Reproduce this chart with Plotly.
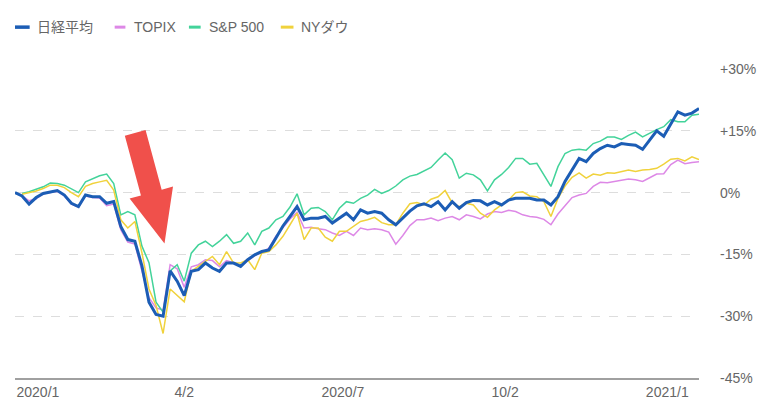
import pandas as pd
import plotly.graph_objects as go

# ---- data (percent change from start), sampled every 4 days ----
dates = pd.date_range("2019-12-30", periods=98, freq="4D")

nikkei = [0.0, -0.8, -2.8, -1.2, -0.2, 0.2, 0.5, -0.6, -2.6, -3.4, -0.6, -1.0, -1.0, -2.6, -2.2,
          -8.2, -11.4, -11.8, -17.8, -26.6, -29.6, -30.0, -19.0, -21.5, -25.0, -19.1, -18.7, -17.1, -18.3, -19.1,
          -17.1, -17.1, -17.9, -16.3, -15.1, -14.3, -13.9, -11.0, -8.1, -5.8, -3.4, -6.6, -6.2, -6.2, -5.8,
          -7.4, -6.2, -5.0, -6.6, -4.2, -5.0, -4.6, -5.0, -6.6, -7.8, -6.2, -4.5, -3.2, -2.7, -3.4,
          -2.2, -4.2, -2.2, -3.8, -2.4, -1.9, -2.0, -3.0, -2.2, -3.0, -1.8, -1.4, -1.4, -1.4, -1.8,
          -1.8, -3.0, -1.0, 2.7, 5.5, 8.3, 7.5, 9.5, 10.7, 11.5, 11.1, 11.9, 11.7, 11.5, 10.5,
          12.7, 15.0, 13.7, 16.8, 19.6, 18.8, 19.3, 20.4]

topix = [None, -0.8, -2.0, -1.5, -0.3, 0.0, 0.3, -0.8, -2.8, -3.5, -0.8, -1.2, -1.3, -3.2, -2.8,
         -9.0, -12.0, -12.5, -19.0, -25.5, -28.0, -28.5, -17.5, -18.5, -23.0, -18.0, -17.5, -16.3, -16.5, -18.0,
         -16.5, -17.0, -17.8, -16.5, -15.3, -14.5, -13.5, -10.6, -8.4, -6.4, -4.8, -8.6, -8.4, -8.8, -9.0,
         -9.8, -10.4, -9.4, -10.4, -8.6, -9.0, -8.8, -9.0, -9.6, -12.5, -10.4, -8.0, -6.6, -6.6, -6.2,
         -6.8, -6.2, -5.8, -6.6, -5.4, -5.8, -6.4, -5.2, -4.6, -4.8, -4.3, -4.6, -5.4, -5.8, -6.0,
         -6.5, -7.8, -5.2, -3.2, -1.2, -0.6, -0.2, 1.5, 2.5, 2.4, 2.7, 3.0, 3.3, 3.1, 2.7,
         3.6, 4.5, 4.6, 6.8, 7.9, 7.0, 7.3, 7.5]

sp500 = [None, -0.2, 0.2, 0.8, 1.4, 2.3, 2.2, 1.8, 0.8, 0.0, 2.6, 3.4, 4.1, 4.5, 2.2,
         -5.4, -4.6, -5.4, -13.0, -17.0, -26.6, -29.0, -19.0, -17.5, -21.5, -14.7, -12.7, -11.8, -13.1, -11.8,
         -10.2, -12.3, -11.8, -9.8, -12.7, -9.4, -8.6, -6.6, -5.8, -3.5, -0.3, -5.4, -3.8, -3.6, -4.6,
         -6.6, -3.8, -2.2, -2.6, -1.4, -0.6, 0.8, -0.2, 0.5, 1.6, 3.1, 4.0, 4.4, 5.3, 6.1,
         7.9, 9.6, 8.0, 3.5, 4.7, 4.3, 3.1, 0.4, 3.1, 4.4, 6.1, 8.3, 8.3, 6.9, 7.1,
         4.3, 1.5, 6.3, 9.5, 10.3, 10.5, 10.3, 11.9, 12.5, 13.5, 13.5, 12.9, 13.9, 14.7, 13.5,
         14.5, 15.3, 16.0, 17.7, 17.2, 17.2, 18.8, 19.0]

nydow = [None, -0.4, 0.0, 0.4, 1.0, 1.8, 1.8, 1.2, 0.0, -1.0, 1.5, 2.2, 2.6, 3.0, 0.6,
         -6.6, -8.6, -7.0, -14.6, -23.4, -27.4, -34.2, -23.4, -25.0, -26.5, -19.1, -17.9, -16.7, -15.5, -17.5,
         -14.3, -17.1, -17.1, -16.3, -18.7, -14.7, -14.3, -12.7, -10.6, -7.8, -5.0, -11.4, -8.6, -8.6, -10.8,
         -11.8, -9.4, -9.4, -8.2, -7.0, -6.6, -6.0, -7.3, -7.8, -7.8, -5.0, -2.7, -2.4, -3.0, -1.6,
         -1.0, 0.5, -2.5, -3.4, -2.6, -3.0, -5.0, -6.0, -4.2, -3.0, -1.8, 0.0, 0.2, -0.8, -1.0,
         -2.2, -5.8, -1.4, 1.6, 3.7, 4.8, 3.5, 4.5, 4.2, 4.8, 4.7, 5.1, 5.5, 5.1, 5.5,
         5.6, 5.9, 6.9, 8.1, 8.3, 7.7, 8.7, 8.0]

series_names = ["日経平均", "TOPIX", "S&P 500", "NYダウ"]
series_colors = ["#1c5db5", "#dd88e6", "#43d39a", "#f0d23c"]

x_tick_dates = ["2020-01-12", "2020-04-04", "2020-07-03", "2020-10-03", "2021-01-03"]
x_tick_labels = ["2020/1", "4/2", "2020/7", "10/2", "2021/1"]
y_ticks = [-45, -30, -15, 0, 15, 30]
y_tick_labels = ["-45%", "-30%", "-15%", "0%", "+15%", "+30%"]

# ---- figure ----
W, H = 768, 412
L, R, T, B = 15, 715, 69, 379   # plot area in pixels

def px(x, y):
    return (x - L) / (R - L), (B - y) / (B - T)

fig = go.Figure()
values = [nikkei, topix, sp500, nydow]
order = [1, 2, 3, 0]  # draw Nikkei on top
for i in order:
    fig.add_trace(go.Scatter(
        x=dates, y=values[i], mode="lines", name=series_names[i],
        line=dict(color=series_colors[i], width=3 if i == 0 else 1.5),
        connectgaps=False, showlegend=False, hoverinfo="skip"))

FONT = "Liberation Sans, Arial, Noto Sans CJK JP, sans-serif"

fig.update_layout(
    width=W, height=H,
    margin=dict(l=L, r=W - R, t=T, b=H - B),
    paper_bgcolor="white", plot_bgcolor="white",
    font=dict(family=FONT, size=14, color="#666666"),
    xaxis=dict(type="date", range=["2019-12-30", "2021-01-21"],
               tickvals=x_tick_dates, ticktext=x_tick_labels,
               showgrid=False, zeroline=False, showline=True,
               linecolor="#a0a0a0", linewidth=1.5, ticks="",
               tickfont=dict(size=14, color="#666666")),
    yaxis=dict(range=[-45, 30], side="right", tickvals=y_ticks, ticktext=y_tick_labels,
               showgrid=True, gridcolor="#dddddd", griddash="dash", gridwidth=1,
               zeroline=False, showline=False, ticks="",
               ticklabelstandoff=20,
               tickfont=dict(size=14, color="#666666")),
    showlegend=False,
)

# ---- legend drawn manually ----
legend_items = [(15, 30, 35), (117, 128, 135), (193, 205, 211), (287, 300, 306)]
for i, (x0, x1, tx) in enumerate(legend_items):
    a0 = px(x0, 27)
    a1 = px(x1, 27)
    fig.add_shape(type="line", xref="paper", yref="paper",
                  x0=a0[0], y0=a0[1], x1=a1[0], y1=a1[1],
                  line=dict(color=series_colors[i], width=3.5 if i == 0 else 3))
    t = px(tx, 27)
    fig.add_annotation(xref="paper", yref="paper", x=t[0], y=t[1], text=series_names[i],
                       showarrow=False, xanchor="left", yanchor="middle",
                       font=dict(size=14, color="#666666", family=FONT))

# ---- big red arrow ----
arrow_px = [(127.4, 135.9), (148.6, 130.1), (165.1, 190.1), (176.7, 187.0),
            (168.0, 244.0), (132.3, 199.0), (143.9, 195.8)]
pts = [px(x, y) for x, y in arrow_px]
path = "M " + " L ".join(f"{a:.5f},{b:.5f}" for a, b in pts) + " Z"
fig.add_shape(type="path", xref="paper", yref="paper", path=path,
              fillcolor="#f0504b", line=dict(width=0), layer="above")

fig.write_html("out.html")
